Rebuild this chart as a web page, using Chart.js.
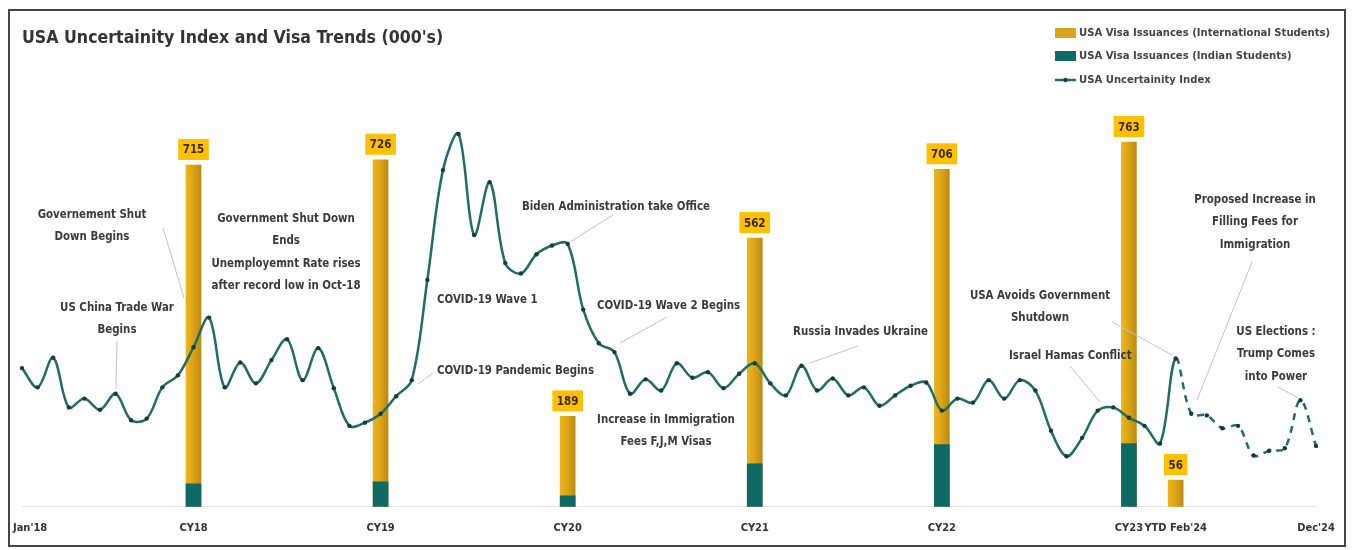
<!DOCTYPE html>
<html>
<head>
<meta charset="utf-8">
<script src="https://cdn.jsdelivr.net/npm/chart.js@4.4.1/dist/chart.umd.min.js"></script>
<style>
html,body{margin:0;padding:0;background:#fff;}
canvas{display:block;}
</style>
</head>
<body>
<canvas id="c" width="1352" height="550"></canvas>
<script>
// ---------------- DATA ----------------
const monthNames = ['Jan','Feb','Mar','Apr','May','Jun','Jul','Aug','Sep','Oct','Nov','Dec'];
const years = ['18','19','20','21','22','23','24'];
const months = [];
years.forEach(y => monthNames.forEach(m => months.push(m + "'" + y)));

// USA Uncertainty Index (monthly, Jan'18 - Dec'24)
const uncertaintyIndex = [
  173,149,186,124,135,121,141,108,110,149,164,199,
  236,149,180,154,183,209,158,198,148,101,105,116,
  138,158,283,420,465,339,405,304,291,315,326,328,
  246,204,193,141,159,145,179,161,168,148,166,179,
  154,139,176,145,160,139,149,126,139,151,155,120,
  135,130,158,135,158,145,95,63,86,120,124,111,
  101,79,185,116,114,98,101,64,70,73,133,76
];
const forecastFrom = "Mar'24";   // line is dashed after this month

const barCategories = ["CY18","CY19","CY20","CY21","CY22","CY23","YTD Feb'24"];
const barMonths     = ["Dec'18","Dec'19","Dec'20","Dec'21","Dec'22","Dec'23","Mar'24"];
const intlStudents  = [715,726,189,562,706,763,56];
const indianStudents= [48,52,23,90,130,132,null];
const firstTickLabel = "Jan'18";
const lastTickLabel  = "Dec'24";

const annotations = [
  {lines:["Governement Shut","Down Begins"], x:92, y:215, align:'center', lead:[163,228,184,298]},
  {lines:["US China Trade War","Begins"], x:117, y:308, align:'center', lead:[117,341,116,388]},
  {lines:["Government Shut Down","Ends","Unemployemnt Rate rises","after record low in Oct-18"], x:286, y:219, align:'center', lead:null},
  {lines:["COVID-19 Wave 1"], x:437, y:300, align:'left', lead:null},
  {lines:["COVID-19 Pandemic Begins"], x:437, y:371, align:'left', lead:[433,373,418,384]},
  {lines:["Biden Administration take Office"], x:522, y:207, align:'left', lead:[613,215,570,242]},
  {lines:["COVID-19 Wave 2 Begins"], x:597, y:306, align:'left', lead:[667,317,620,343]},
  {lines:["Increase in Immigration","Fees F,J,M Visas"], x:666, y:420, align:'center', lead:null},
  {lines:["Russia Invades Ukraine"], x:793, y:332, align:'left', lead:[858,346,810,363]},
  {lines:["USA Avoids Government","Shutdown"], x:1040, y:296, align:'center', lead:[1112,322,1172,355]},
  {lines:["Israel Hamas Conflict"], x:1009, y:356, align:'left', lead:[1070,366,1100,402]},
  {lines:["Proposed Increase in","Filling Fees for","Immigration"], x:1255, y:200, align:'center', lead:[1252,262,1197,400]},
  {lines:["US Elections :","Trump Comes","into Power"], x:1276, y:332, align:'center', lead:[1278,387,1298,398]}
];

// ---------------- STYLE ----------------
const FONT = "'Liberation Sans Narrow','DejaVu Sans Condensed','Arial Narrow',sans-serif";
const GOLD = '#D8A51A';
const TEAL_BAR = '#0E6A62';
const TEAL_LINE = '#1E6E64';
const TEXT = '#3a3a3a';
const TICK_PAD = 15, TICK_SIZE = 11;

const barLookup = {};
barMonths.forEach((m,i)=>{ barLookup[m] = barCategories[i]; });
const forecastIdx = months.indexOf(forecastFrom);

function goldFill(ctx){
  const el = ctx.element;
  if (!el || typeof el.x !== 'number' || isNaN(el.x) || !el.width) return GOLD;
  const g = ctx.chart.ctx.createLinearGradient(el.x - el.width/2, 0, el.x + el.width/2, 0);
  g.addColorStop(0, '#EDB51C');
  g.addColorStop(0.45, '#DDA417');
  g.addColorStop(1, '#BC8A12');
  return g;
}

const decorPlugin = {
  id:'decor',
  beforeDraw(chart){
    const c = chart.ctx;
    c.save();
    c.fillStyle = '#fff';
    c.fillRect(0,0,chart.width,chart.height);
    c.restore();
  },
  afterDatasetsDraw(chart){
    const c = chart.ctx;
    const meta = chart.getDatasetMeta(1);
    c.save();
    c.font = "bold 11.5px " + FONT;
    c.textAlign = 'center';
    c.textBaseline = 'middle';
    meta.data.forEach((el, i) => {
      const v = chart.data.datasets[1].data[i].y;
      const tw = c.measureText(String(v)).width;
      const w = tw + 9, h = 21;
      const top = el.y - 5 - h;
      c.fillStyle = '#FFC000';
      c.fillRect(el.x - w/2, top, w, h);
      c.fillStyle = '#3b2a00';
      c.fillText(String(v), el.x, top + h/2 + 1);
    });
    c.restore();
  },
  afterDraw(chart){
    const c = chart.ctx;
    const xs = chart.scales.x;
    c.save();
    // first tick label (left-aligned so it stays inside the frame)
    c.fillStyle = '#333';
    c.font = "bold " + TICK_SIZE + "px " + FONT;
    c.textAlign = 'left';
    c.textBaseline = 'middle';
    c.fillText(firstTickLabel, xs.getPixelForValue(0) - 9, xs.top + TICK_PAD + TICK_SIZE*0.6);
    // frame
    c.strokeStyle = '#444';
    c.lineWidth = 2;
    c.strokeRect(9, 10, 1336, 536);
    // title
    c.fillStyle = '#333';
    c.font = "bold 17.6px " + FONT;
    c.textBaseline = 'alphabetic';
    c.textAlign = 'left';
    c.fillText("USA Uncertainity Index and Visa Trends (000's)", 22, 43);
    // legend
    const ly = [33, 56, 80];
    c.fillStyle = GOLD; c.fillRect(1055, ly[0]-5, 21, 10);
    c.fillStyle = TEAL_BAR; c.fillRect(1055, ly[1]-5, 21, 10);
    c.strokeStyle = TEAL_LINE; c.lineWidth = 2.5;
    c.beginPath(); c.moveTo(1055, ly[2]); c.lineTo(1076, ly[2]); c.stroke();
    c.fillStyle = '#1a3a36'; c.beginPath(); c.arc(1065.5, ly[2], 2.2, 0, Math.PI*2); c.fill();
    c.fillStyle = '#444';
    c.font = "bold 11.2px " + FONT;
    c.textBaseline = 'middle';
    const legendLabels = chart.data.datasets.map(d => d.label);
    c.fillText(legendLabels[1], 1079, ly[0]);
    c.fillText(legendLabels[2], 1079, ly[1]);
    c.fillText(legendLabels[0], 1079, ly[2]);
    // annotations
    c.strokeStyle = '#c4c4c4'; c.lineWidth = 1;
    annotations.forEach(a => {
      if (a.lead){
        c.beginPath(); c.moveTo(a.lead[0], a.lead[1]); c.lineTo(a.lead[2], a.lead[3]); c.stroke();
      }
    });
    c.fillStyle = TEXT;
    c.font = "bold 11.4px " + FONT;
    c.textBaseline = 'middle';
    annotations.forEach(a => {
      c.textAlign = a.align;
      a.lines.forEach((t, k) => c.fillText(t, a.x, a.y + k*22.5));
    });
    c.restore();
  }
};

const chart = new Chart(document.getElementById('c'), {
  type:'bar',
  data:{
    labels: months,
    datasets:[
      {
        type:'line',
        label:'USA Uncertainity Index',
        data: uncertaintyIndex,
        yAxisID:'y1',
        borderColor: TEAL_LINE,
        borderWidth: 2.5,
        pointRadius: 2.2,
        pointBackgroundColor:'#1a3a36',
        pointBorderWidth:0,
        tension:0.35,
        order:0,
        segment:{ borderDash: ctx => ctx.p0DataIndex >= forecastIdx ? [7,6] : undefined }
      },
      {
        label:'USA Visa Issuances (International Students)',
        data: barMonths.map((m,i)=>({x:m, y:intlStudents[i]})),
        yAxisID:'y',
        backgroundColor: goldFill,
        barThickness: 15,
        grouped:false,
        order:2
      },
      {
        label:'USA Visa Issuances (Indian Students)',
        data: barMonths.map((m,i)=>({x:m, y:indianStudents[i]})),
        yAxisID:'y',
        backgroundColor: TEAL_BAR,
        barThickness: 15,
        grouped:false,
        order:1
      }
    ]
  },
  options:{
    responsive:false,
    animation:false,
    devicePixelRatio:1,
    layout:{padding:{left:22,right:36,top:110,bottom:0}},
    plugins:{legend:{display:false}, tooltip:{enabled:false}, title:{display:false}},
    scales:{
      x:{
        type:'category',
        offset:false,
        afterFit:(scale)=>{ scale.paddingLeft = 0; scale.paddingRight = 0; },
        grid:{display:false, drawTicks:false},
        border:{display:true, color:'#e2e2e2', width:1},
        ticks:{
          autoSkip:false, maxRotation:0, minRotation:0, padding:TICK_PAD,
          color:'#333',
          font:{family:FONT, size:TICK_SIZE, weight:'bold'},
          callback:(v,i)=>{
            const m = months[i];
            if (barLookup[m]) return barLookup[m];
            if (m === lastTickLabel) return lastTickLabel;
            return '';
          }
        }
      },
      y:{display:false, min:0, max:830},
      y1:{display:false, min:0, max:495}
    }
  },
  plugins:[decorPlugin]
});
chart.update();
</script>
</body>
</html>
